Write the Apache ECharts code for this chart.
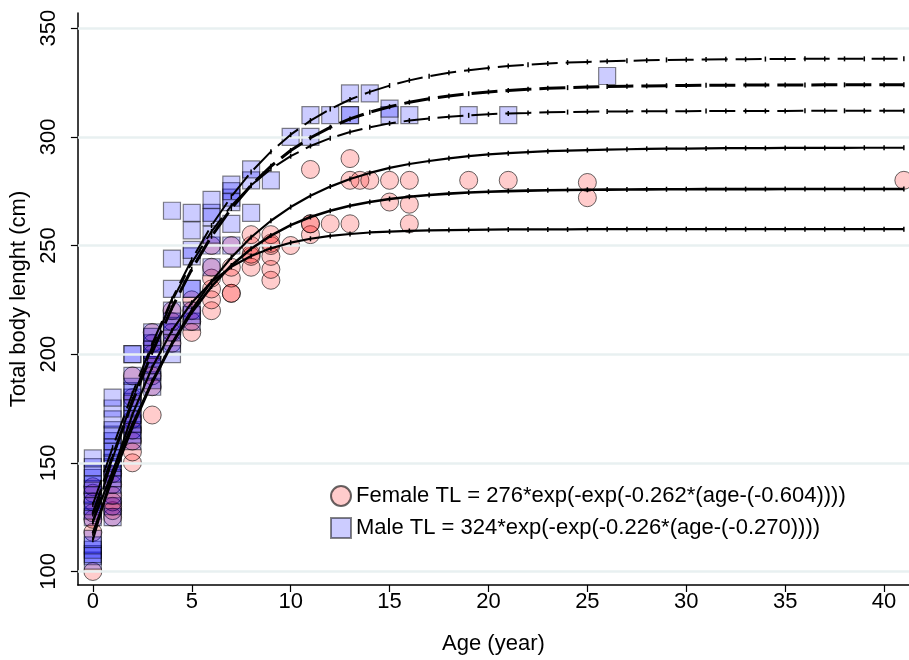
<!DOCTYPE html>
<html>
<head>
<meta charset="utf-8">
<script src="https://cdn.jsdelivr.net/npm/echarts@6/dist/echarts.min.js"></script>
<style>
  html, body { margin: 0; padding: 0; background: #fff; }
  #chart { width: 909px; height: 660px; }
</style>
</head>
<body>
<div id="chart"></div>
<script>
// ---- Observations: age (years) and total body length (cm) ----
const femaleAge = [
  0,0,0,0,0,0,0,
  1,1,1,1,1,1,1,
  2,2,2,2,2,2,2,
  3,3,3,3,3,3,3,
  4,4,4,4,
  5,5,5,5,
  6,6,6,6,6,6,
  7,7,7,7,7,
  8,8,8,8,8,
  9,9,9,9,9,9,
  10,
  11,11,11,11,
  12,
  13,13,13,
  13.5,
  14,
  15,15,
  16,16,16,
  19, 21, 25, 25, 41
];
const femaleTL = [
  100,118,124,127,132,136,139,
  125,128,130,132,135,140,145,
  150,155,160,165,170,180,190,
  172,185,190,195,200,205,210,
  205,210,215,220,
  210,215,220,225,
  220,225,230,235,240,250,
  228,228,235,240,250,
  240,245,246,250,255,
  234,239,245,250,251,255,
  250,
  255,260,260,285,
  260,
  260,280,290,
  280,
  280,
  270,280,
  260,269,280,
  280, 280, 272, 279, 280
];

const maleAge = [
  0,0,0,0,0,0,0,0,0,0,0,0,0,0,0,0,0,
  1,1,1,1,1,1,1,1,1,1,1,1,1,1,1,1,1,
  2,2,2,2,2,2,2,2,2,2,2,2,2,2,
  3,3,3,3,3,3,3,3,3,3,
  4,4,4,4,4,4,4,4,4,
  5,5,5,5,5,5,5,5,5,
  6,6,6,6,6,6,
  7,7,7,7,7,7,
  8,8,8,
  9, 10, 11, 11, 12,
  13,13,13,
  14, 15, 15, 16, 19, 21, 26
];
const maleTL = [
  105,107,108,110,112,115,125,128,130,132,135,138,140,143,145,148,152,
  125,130,135,140,143,145,148,150,152,155,157,160,163,165,170,175,180,
  160,163,165,168,170,172,175,178,180,183,185,190,200,200,
  185,188,192,195,198,200,202,205,208,210,
  200,205,210,213,215,220,230,244,266,
  215,218,220,230,230,245,248,257,265,
  240,250,255,263,265,271,
  250,260,270,272,275,278,
  265,280,285,
  280, 300, 300, 310, 310,
  310,310,320,
  320, 310, 313, 310, 310, 310, 328
];

// ---- Gompertz fits: [Linf, k, t0] ----
const femaleFit = [276, 0.262, -0.604];
const maleFit = [324, 0.226, -0.270];

// Ages at which the growth curves are evaluated
const curveAges = [0,1,2,3,4,5,6,7,8,9,10,11,12,13,14,15,16,17,18,19,20,
                   21,22,23,24,25,26,27,28,29,30,31,32,33,34,35,36,37,38,39,40,41];

// Upper / lower curves around each fit
const femaleUpper = [122.9,146.1,167.9,187.6,205.1,220.4,233.5,244.5,253.8,261.4,267.7,
  272.9,277.1,280.6,283.4,285.7,287.5,288.9,290.1,291.1,291.9,292.5,293.0,293.4,293.7,
  293.9,294.1,294.3,294.5,294.6,294.6,294.7,294.8,294.8,294.8,294.9,294.9,294.9,294.9,
  295.0,295.0,295.0];
const femaleLower = [114.6,145.6,172.2,194.0,210.9,223.7,233.3,240.2,245.2,248.7,251.3,
  253.1,254.4,255.3,256.0,256.4,256.7,257.0,257.1,257.2,257.3,257.4,257.4,257.4,257.4,
  257.5,257.5,257.5,257.5,257.5,257.5,257.5,257.5,257.5,257.5,257.5,257.5,257.5,257.5,
  257.5,257.5,257.5];
const maleUpper = [130.8,157.0,181.9,204.8,225.4,243.5,259.2,272.5,283.8,293.2,301.0,
  307.5,312.8,317.2,320.7,323.6,326.0,327.9,329.5,330.7,331.7,332.6,333.2,333.8,334.2,
  334.5,334.8,335.0,335.2,335.4,335.5,335.6,335.7,335.7,335.8,335.8,335.9,335.9,335.9,
  335.9,336.0,336.0];
const maleLower = [122.8,152.0,179.2,203.5,224.4,242.0,256.5,268.3,277.7,285.2,291.1,
  295.8,299.4,302.2,304.4,306.2,307.5,308.5,309.3,309.9,310.4,310.8,311.0,311.3,311.4,
  311.6,311.7,311.7,311.8,311.8,311.8,311.9,311.9,311.9,311.9,311.9,312.0,312.0,312.0,
  312.0,312.0,312.0];

// Axis ticks
const xTicks = [0, 5, 10, 15, 20, 25, 30, 35, 40];
const yTicks = [100, 150, 200, 250, 300, 350];

// ---- Build series data ----
function gompertz(p, a) {
  return p[0] * Math.exp(-Math.exp(-p[1] * (a - p[2])));
}
function fitLabel(sex, p) {
  return sex + ' TL = ' + p[0] + '*exp(-exp(-' + p[1].toFixed(3) +
         '*(age-(' + p[2].toFixed(3) + '))))';
}
const zip = (xs, ys) => xs.map((x, i) => [x, ys[i]]);

const femaleName = fitLabel('Female', femaleFit);
const maleName = fitLabel('Male', maleFit);

const FONT = '"Liberation Sans", Arial, Helvetica, sans-serif';
const FS = 22;

function curve(data, width, dashed) {
  return {
    type: 'line',
    data: data,
    z: 5,
    silent: true,
    showSymbol: true,
    symbol: 'rect',
    symbolSize: [1.5, 5],
    itemStyle: { color: '#000' },
    lineStyle: { color: '#000', width: width, type: dashed ? [26, 8] : 'solid' },
    animation: false
  };
}

const chart = echarts.init(document.getElementById('chart'), null, { renderer: 'canvas' });

chart.setOption({
  animation: false,
  backgroundColor: '#fff',
  textStyle: { fontFamily: FONT },
  grid: { left: 75, right: 0, top: 13, bottom: 68 },
  legend: {
    data: [femaleName, maleName],
    orient: 'vertical',
    left: 325,
    top: 480,
    itemWidth: 20,
    itemHeight: 20,
    itemGap: 10,
    textStyle: { fontSize: FS, color: '#000', fontFamily: FONT }
  },
  xAxis: {
    type: 'value',
    min: -0.756,
    max: 41.26,
    name: 'Age (year)',
    nameLocation: 'middle',
    nameGap: 48,
    nameTextStyle: { fontSize: FS, color: '#000', fontFamily: FONT },
    axisLine: { show: true, onZero: false, lineStyle: { color: '#000', width: 1.5 } },
    axisTick: { show: true, length: 7, customValues: xTicks, lineStyle: { color: '#000', width: 1.2 } },
    axisLabel: { customValues: xTicks, fontSize: FS, color: '#000', margin: 6, fontFamily: FONT },
    splitLine: { show: false }
  },
  yAxis: {
    type: 'value',
    min: 93.77,
    max: 357,
    name: 'Total body lenght (cm)',
    nameLocation: 'middle',
    nameGap: 40,
    nameRotate: 90,
    nameTextStyle: { fontSize: FS, color: '#000', fontFamily: FONT },
    axisLine: { show: true, onZero: false, lineStyle: { color: '#000', width: 1.5 } },
    axisTick: { show: true, length: 7, customValues: yTicks, lineStyle: { color: '#000', width: 1.2 } },
    axisLabel: { customValues: yTicks, rotate: 90, fontSize: FS, color: '#000', margin: 18, fontFamily: FONT },
    splitLine: { show: false }
  },
  series: [
    {
      // horizontal reference lines at the y ticks
      type: 'scatter',
      data: [],
      z: 0,
      silent: true,
      markLine: {
        silent: true,
        symbol: 'none',
        label: { show: false },
        lineStyle: { color: '#e8f0f1', width: 2.5, type: 'solid' },
        data: yTicks.map(v => ({ yAxis: v }))
      }
    },
    {
      name: femaleName,
      type: 'scatter',
      symbol: 'circle',
      symbolSize: 18,
      z: 2,
      data: zip(femaleAge, femaleTL),
      itemStyle: { color: 'rgba(255,0,0,0.25)', borderColor: 'rgba(0,0,0,0.75)', borderWidth: 1 }
    },
    {
      name: maleName,
      type: 'scatter',
      symbol: 'rect',
      symbolSize: 17,
      z: 2,
      data: zip(maleAge, maleTL),
      itemStyle: { color: 'rgba(0,0,255,0.25)', borderColor: 'rgba(0,0,0,0.6)', borderWidth: 1.2 }
    },
    curve(zip(curveAges, femaleUpper), 2.2, false),
    curve(curveAges.map(a => [a, gompertz(femaleFit, a)]), 2.6, false),
    curve(zip(curveAges, femaleLower), 2.2, false),
    curve(zip(curveAges, maleUpper), 2, true),
    curve(curveAges.map(a => [a, gompertz(maleFit, a)]), 3, true),
    curve(zip(curveAges, maleLower), 2, true)
  ]
});
</script>
</body>
</html>
